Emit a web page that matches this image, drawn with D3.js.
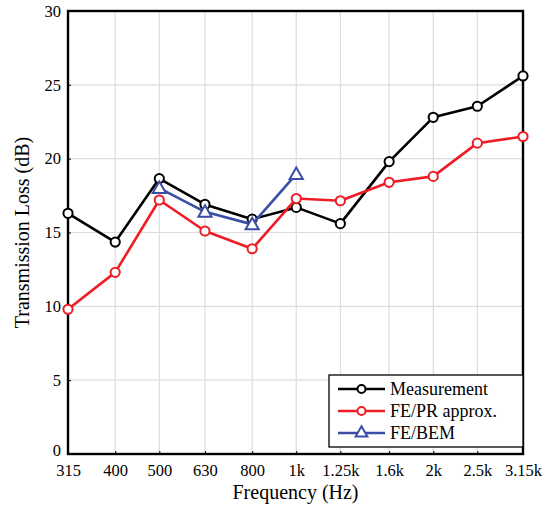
<!DOCTYPE html>
<html>
<head>
<meta charset="utf-8">
<script src="https://cdn.jsdelivr.net/npm/d3@7"></script>
<style>
body { margin: 0; background: #fff; }
svg text { font-family: "Liberation Serif", "DejaVu Serif", "Times New Roman", serif !important; }
</style>
</head>
<body>
<div id="chart"></div>
<script>
var w = 550, h = 508;
var margin = {top: 11, right: 27, bottom: 54, left: 68};

// frequencies (Hz) and their tick labels
var freqs = [315, 400, 500, 630, 800, 1000, 1250, 1600, 2000, 2500, 3150];
var freqLabels = ["315", "400", "500", "630", "800", "1k", "1.25k", "1.6k", "2k", "2.5k", "3.15k"];
var yTicks = [0, 5, 10, 15, 20, 25, 30];

// transmission loss (dB)
var measurement = [16.3, 14.35, 18.65, 16.9, 15.9, 16.7, 15.6, 19.8, 22.8, 23.55, 25.6];
var fePr = [9.8, 12.3, 17.2, 15.1, 13.9, 17.3, 17.15, 18.4, 18.8, 21.05, 21.5];
var bemFreqs = [500, 630, 800, 1000];
var feBem = [18.0, 16.4, 15.55, 18.95];

var seriesNames = ["Measurement", "FE/PR approx.", "FE/BEM"];
var seriesColors = ["#000000", "#ee1c25", "#3b4ea6"];

var svg = d3.select("#chart").append("svg")
    .attr("width", w)
    .attr("height", h);

var x = d3.scaleLog()
    .domain([315, 3150])
    .range([margin.left, w - margin.right]);

var y = d3.scaleLinear()
    .domain([0, 30])
    .range([h - margin.bottom, margin.top]);

// grid
svg.append("g").selectAll("line.gx")
    .data(freqs)
    .enter().append("line")
    .attr("x1", function (d) { return x(d); })
    .attr("x2", function (d) { return x(d); })
    .attr("y1", y(0)).attr("y2", y(30))
    .attr("stroke", "#dcdcdc").attr("stroke-width", 1.2);

svg.append("g").selectAll("line.gy")
    .data(yTicks)
    .enter().append("line")
    .attr("y1", function (d) { return y(d); })
    .attr("y2", function (d) { return y(d); })
    .attr("x1", x(315)).attr("x2", x(3150))
    .attr("stroke", "#dcdcdc").attr("stroke-width", 1.2);

// axes
var xAxis = d3.axisBottom(x)
    .tickValues(freqs)
    .tickFormat(function (d, i) { return freqLabels[i]; })
    .tickSizeInner(-3).tickSizeOuter(0).tickPadding(10);

var gx = svg.append("g")
    .attr("transform", "translate(0," + y(0) + ")")
    .call(xAxis);
gx.select(".domain").remove();
gx.attr("font-family", null);
gx.selectAll("text").attr("font-size", 16.5).attr("fill", "#000");

var yAxis = d3.axisLeft(y)
    .tickValues(yTicks)
    .tickSizeInner(-3).tickSizeOuter(0).tickPadding(7);

var gy = svg.append("g")
    .attr("transform", "translate(" + x(315) + ",0)")
    .call(yAxis);
gy.select(".domain").remove();
gy.attr("font-family", null);
gy.selectAll("text").attr("font-size", 16.5).attr("fill", "#000");
// the "0" label sits a little higher so it clears "315"
gy.selectAll(".tick text").filter(function (d) { return d == 0; }).attr("dy", "0.1em");

// frame
svg.append("rect")
    .attr("x", x(315)).attr("y", y(30))
    .attr("width", x(3150) - x(315))
    .attr("height", y(0) - y(30))
    .attr("fill", "none")
    .attr("stroke", "#000").attr("stroke-width", 2.4);

// lines
var line = d3.line()
    .x(function (d) { return x(d[0]); })
    .y(function (d) { return y(d[1]); });

var series = [
    {pts: d3.zip(freqs, measurement), color: seriesColors[0], mark: "circle"},
    {pts: d3.zip(freqs, fePr), color: seriesColors[1], mark: "circle"},
    {pts: d3.zip(bemFreqs, feBem), color: seriesColors[2], mark: "triangle"}
];

var tri = d3.symbol().type(d3.symbolTriangle).size(75);

series.forEach(function (s) {
    svg.append("path")
        .datum(s.pts)
        .attr("d", line)
        .attr("fill", "none")
        .attr("stroke", s.color)
        .attr("stroke-width", 2.6)
        .attr("stroke-linejoin", "round");

    if (s.mark == "circle") {
        svg.append("g").selectAll("circle")
            .data(s.pts)
            .enter().append("circle")
            .attr("cx", function (d) { return x(d[0]); })
            .attr("cy", function (d) { return y(d[1]); })
            .attr("r", 4.6)
            .attr("fill", "#fff")
            .attr("stroke", s.color)
            .attr("stroke-width", 2);
    } else {
        svg.append("g").selectAll("path")
            .data(s.pts)
            .enter().append("path")
            .attr("d", tri)
            .attr("transform", function (d) { return "translate(" + x(d[0]) + "," + (y(d[1]) + 1) + ")"; })
            .attr("fill", "#fff")
            .attr("stroke", s.color)
            .attr("stroke-width", 2);
    }
});

// axis titles
svg.append("text")
    .attr("x", (x(315) + x(3150)) / 2)
    .attr("y", 499)
    .attr("text-anchor", "middle")
    .attr("font-size", 20)
    .text("Frequency (Hz)");

svg.append("text")
    .attr("transform", "translate(29," + y(15) + ") rotate(-90)")
    .attr("text-anchor", "middle")
    .attr("font-size", 20)
    .text("Transmission Loss (dB)");

// legend
var lg = svg.append("g").attr("transform", "translate(329,375)");
lg.append("rect")
    .attr("width", 194).attr("height", 72)
    .attr("fill", "#fff")
    .attr("stroke", "#000").attr("stroke-width", 1.3);

seriesNames.forEach(function (name, i) {
    var ry = 14 + i * 22;
    lg.append("line")
        .attr("x1", 9).attr("x2", 56)
        .attr("y1", ry).attr("y2", ry)
        .attr("stroke", seriesColors[i]).attr("stroke-width", 2.6);
    if (i < 2) {
        lg.append("circle")
            .attr("cx", 32.5).attr("cy", ry).attr("r", 4)
            .attr("fill", "#fff")
            .attr("stroke", seriesColors[i]).attr("stroke-width", 2);
    } else {
        lg.append("path")
            .attr("d", d3.symbol().type(d3.symbolTriangle).size(60))
            .attr("transform", "translate(32.5," + ry + ")")
            .attr("fill", "#fff")
            .attr("stroke", seriesColors[i]).attr("stroke-width", 2);
    }
    lg.append("text")
        .attr("x", 61).attr("y", ry + 6)
        .attr("font-size", 18)
        .text(name);
});
</script>
</body>
</html>
